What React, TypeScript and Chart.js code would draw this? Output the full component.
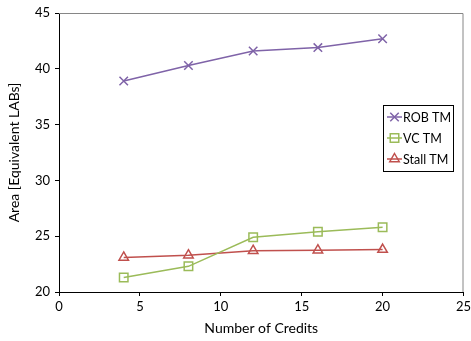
import React, { useEffect, useRef } from "react";
import { Chart, registerables } from "chart.js";

Chart.register(...registerables);

const credits = [4, 8, 12, 16, 20];
const robTM = [38.9, 40.3, 41.6, 41.9, 42.7];
const vcTM = [21.3, 22.3, 24.9, 25.4, 25.8];
const stallTM = [23.1, 23.3, 23.7, 23.75, 23.8];
const seriesNames = ["ROB TM", "VC TM", "Stall TM"];
const xTitle = "Number of Credits";
const yTitle = "Area [Equivalent LABs]";

const FONT = "Lato, 'Open Sans', sans-serif";

function marker(ctx: CanvasRenderingContext2D, style: string, x: number, y: number, r: number) {
  ctx.beginPath();
  if (style === "crossRot") {
    const s = r * Math.SQRT1_2;
    ctx.moveTo(x - s, y - s);
    ctx.lineTo(x + s, y + s);
    ctx.moveTo(x - s, y + s);
    ctx.lineTo(x + s, y - s);
  } else if (style === "rect") {
    const s = r * Math.SQRT1_2;
    ctx.rect(x - s, y - s, 2 * s, 2 * s);
  } else if (style === "triangle") {
    ctx.moveTo(x, y - r);
    ctx.lineTo(x + r * 0.866, y + r * 0.5);
    ctx.lineTo(x - r * 0.866, y + r * 0.5);
    ctx.closePath();
  }
  ctx.stroke();
}

const frameAndLegend = {
  id: "frameAndLegend",
  afterDraw(chart: any) {
    const { ctx, chartArea } = chart;
    ctx.save();
    ctx.strokeStyle = "#868686";
    ctx.lineWidth = 1;
    ctx.beginPath();
    ctx.moveTo(chartArea.left, chartArea.top + 0.5);
    ctx.lineTo(chartArea.right - 0.5, chartArea.top + 0.5);
    ctx.lineTo(chartArea.right - 0.5, chartArea.bottom);
    ctx.stroke();

    const bx = 383.5, by = 105.5, bw = 70, bh = 66;
    ctx.fillStyle = "#ffffff";
    ctx.fillRect(bx, by, bw, bh);
    ctx.strokeStyle = "#000000";
    ctx.strokeRect(bx, by, bw, bh);
    chart.data.datasets.forEach((ds: any, i: number) => {
      const y = 117 + i * 21;
      const mx = 394.5;
      ctx.strokeStyle = ds.borderColor;
      ctx.lineWidth = 1.5;
      ctx.beginPath();
      ctx.moveTo(387, y);
      ctx.lineTo(402, y);
      ctx.stroke();
      marker(ctx, ds.pointStyle, mx, y, ds.pointRadius);
      ctx.fillStyle = "#000";
      ctx.font = `12.5px ${FONT}`;
      ctx.textBaseline = "middle";
      ctx.textAlign = "left";
      ctx.fillText(ds.label, 403, y + 0.5);
    });
    ctx.restore();
  },
};

export default function App() {
  const ref = useRef<HTMLCanvasElement>(null);
  useEffect(() => {
    if (!ref.current) return;
    const mk = (label: string, data: number[], color: string, style: string, r: number) => ({
      label,
      data: credits.map((x, i) => ({ x, y: data[i] })),
      borderColor: color,
      backgroundColor: "rgba(0,0,0,0)",
      pointBorderColor: color,
      pointBackgroundColor: "rgba(0,0,0,0)",
      pointStyle: style,
      pointRadius: r,
      pointBorderWidth: 1.5,
      borderWidth: 1.5,
      tension: 0,
    });
    const chart = new Chart(ref.current, {
      type: "line",
      data: {
        datasets: [
          mk(seriesNames[0], robTM, "#7F63A8", "crossRot", 6),
          mk(seriesNames[1], vcTM, "#9BBB59", "rect", 6),
          mk(seriesNames[2], stallTM, "#C0504D", "triangle", 5.5),
        ],
      },
      options: {
        animation: false,
        responsive: false,
        layout: { padding: { top: 13, right: 5, left: 0, bottom: 0 } },
        plugins: { legend: { display: false }, tooltip: { enabled: false } },
        scales: {
          x: {
            type: "linear",
            min: 0,
            max: 25,
            ticks: { stepSize: 5, color: "#000", font: { family: FONT, size: 13 }, padding: 3, maxRotation: 0 },
            grid: { drawOnChartArea: false, drawTicks: true, tickLength: 4, color: "#000" },
            border: { color: "#000", width: 1 },
            title: { display: true, text: xTitle, color: "#000", font: { family: FONT, size: 14 }, padding: { top: 5 } },
            afterFit: (s: any) => { s.height = 49; s.paddingRight = 0; s.paddingLeft = 0; },
          },
          y: {
            min: 20,
            max: 45,
            ticks: { stepSize: 5, color: "#000", font: { family: FONT, size: 13 }, padding: 5 },
            grid: { drawOnChartArea: false, drawTicks: true, tickLength: 4, color: "#000" },
            border: { color: "#000", width: 1 },
            title: { display: true, text: yTitle, color: "#000", font: { family: FONT, size: 14 }, padding: { top: 6, bottom: 4 } },
            afterFit: (s: any) => { s.width = 59; },
          },
        },
      },
      plugins: [frameAndLegend],
    } as any);
    return () => chart.destroy();
  }, []);
  return (
    <div style={{ position: "fixed", left: 0, top: 0, width: 471, height: 341, background: "#fff" }}>
      <canvas ref={ref} width={471} height={341} />
    </div>
  );
}
